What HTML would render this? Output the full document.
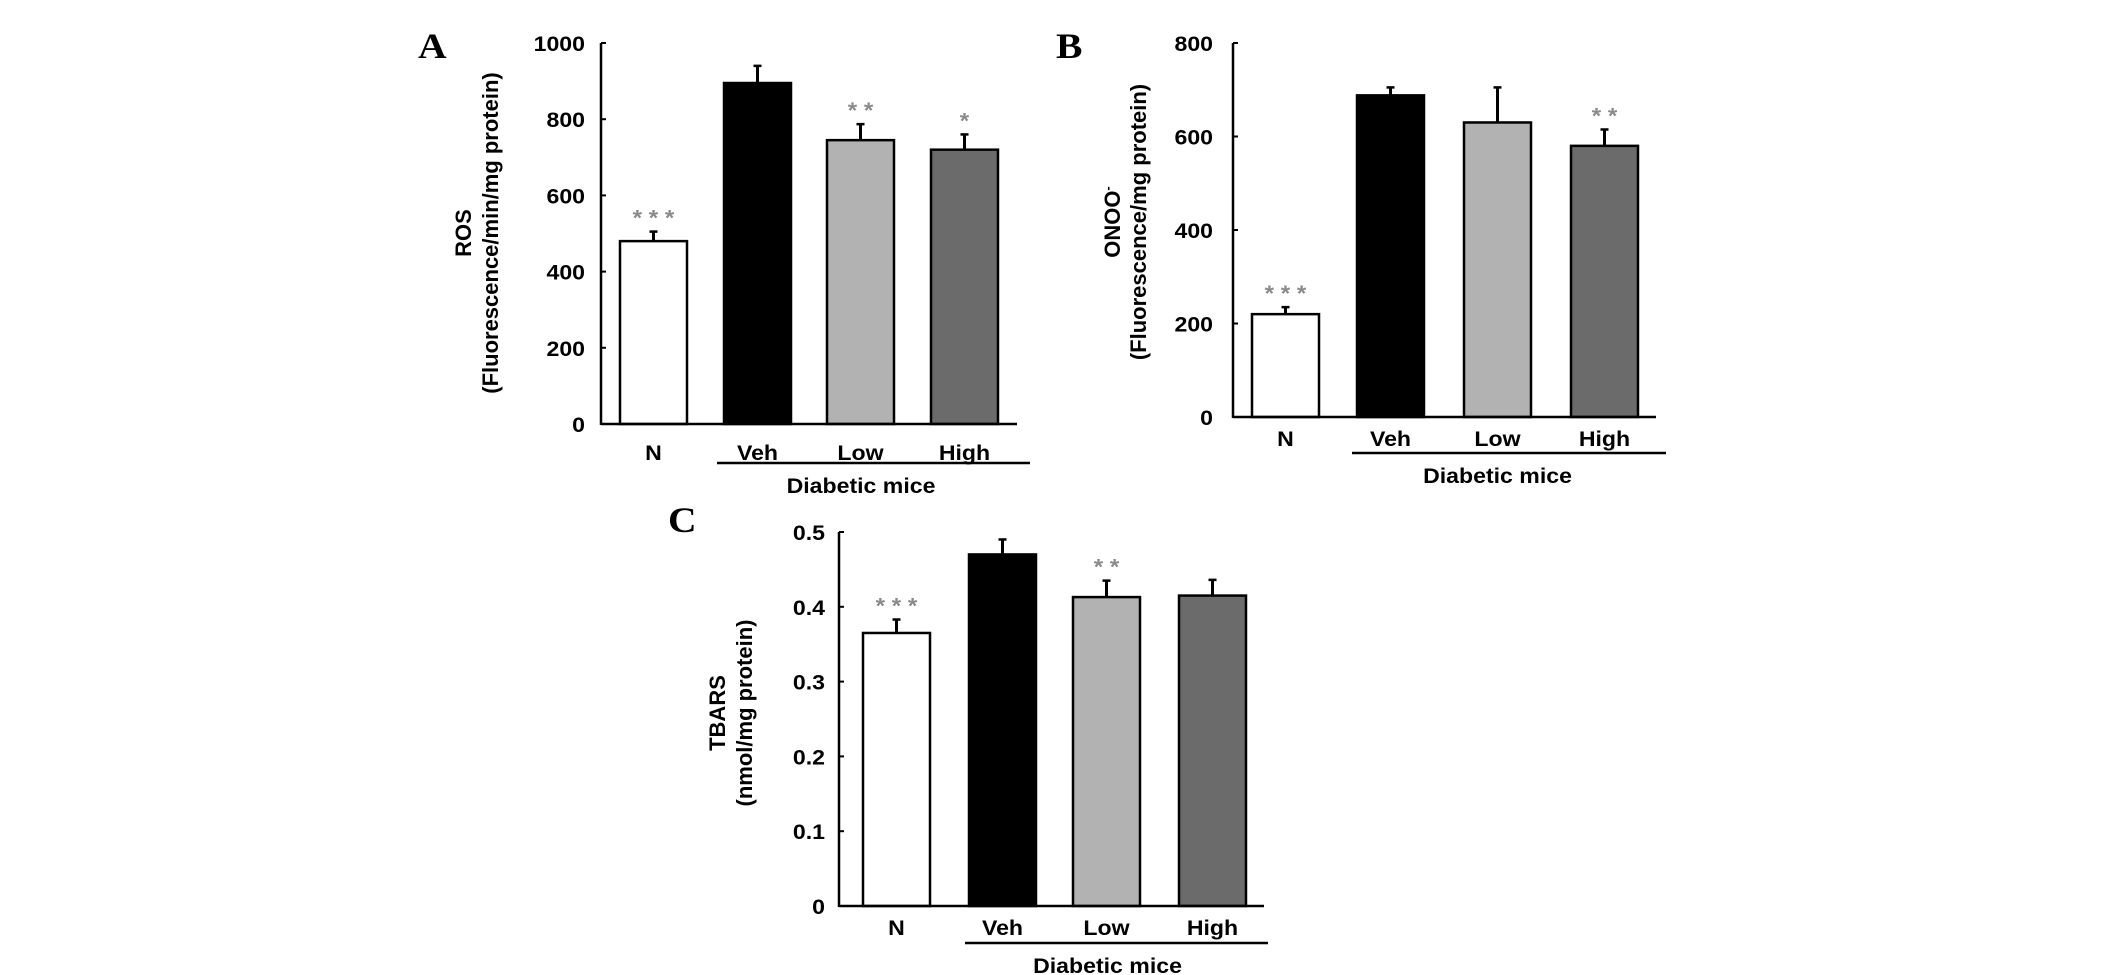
<!DOCTYPE html>
<html><head><meta charset="utf-8"><style>
html,body{margin:0;padding:0;background:#fff;}
svg{display:block;font-family:"Liberation Sans",Arial,sans-serif;}
</style></head><body>
<svg id="fig" width="2126" height="975" viewBox="0 0 2126 975"></svg>
<script>
const categories = ["N","Veh","Low","High"];
const fills = ["#ffffff","#000000","#b2b2b2","#6b6b6b"];
const rosValues = [480, 895, 745, 720];
const rosErrors = [25, 45, 42, 40];
const rosStars = ["* * *", "", "* *", "*"];
const rosTicks = [0,200,400,600,800,1000];
const onooValues = [220, 688, 630, 580];
const onooErrors = [15, 17, 75, 35];
const onooStars = ["* * *", "", "", "* *"];
const onooTicks = [0,200,400,600,800];
const tbarsValues = [0.365, 0.470, 0.413, 0.415];
const tbarsErrors = [0.018, 0.020, 0.022, 0.021];
const tbarsStars = ["* * *", "", "* *", ""];
const tbarsTicks = [0,0.1,0.2,0.3,0.4,0.5];

const NS = "http://www.w3.org/2000/svg";
const svg = document.getElementById('fig');
const SX = 1.1;
function mk(tag, attrs, parent){const e=document.createElementNS(NS,tag);for(const k in attrs)e.setAttribute(k,attrs[k]);(parent||svg).appendChild(e);return e;}
function txt(parent, x, y, anchor, size, content, extra){
  const a = Object.assign({x:0,y:0,'text-anchor':anchor,'font-size':size,'font-weight':'bold',transform:`translate(${x},${y}) scale(${SX},1)`}, extra||{});
  const t = mk('text', a, parent);
  t.innerHTML = content;
  return t;
}

function panel(cfg){
  const g = mk('g',{});
  
  
  const ymax = cfg.ticks[cfg.ticks.length-1];
  const y = v => cfg.y0 - (v/ymax)*(cfg.y0-cfg.yTop);
  const L = txt(g, cfg.letterX, cfg.letterY, 'start', 36, cfg.letter, {'font-family':'"Liberation Serif",serif'});
  
  
  cfg.values.forEach((v,i)=>{
    const x0 = cfg.barX[i], w = cfg.barW;
    const top = y(v), et = y(v+cfg.errors[i]);
    const eb = mk('line',{x1:x0+w/2,x2:x0+w/2,y1:top,y2:et,stroke:'#000','stroke-width':3},g);
    
    
    mk('line',{x1:x0+w/2-4,x2:x0+w/2+4,y1:et,y2:et,stroke:'#000','stroke-width':2.5},g);
    const r = mk('rect',{x:x0,y:top,width:w,height:cfg.y0-top,fill:fills[i],stroke:'#000','stroke-width':2.5},g);
    
    
    if(cfg.stars[i]){
      const s = txt(g, x0+w/2, et-6, 'middle', 22, cfg.stars[i], {fill:'#8a8a8a'});
      
      
    }
    const t = txt(g, x0+w/2, cfg.labelY+8, 'middle', 21, categories[i]);
    
    
  });
  const ya = mk('line',{x1:cfg.axX,x2:cfg.axX,y1:cfg.yTop,y2:cfg.y0+1,stroke:'#000','stroke-width':2.5},g);
  
  
  const xa = mk('line',{x1:cfg.axX,x2:cfg.axEnd,y1:cfg.y0,y2:cfg.y0,stroke:'#000','stroke-width':2.5},g);
  
  
  cfg.ticks.forEach(tv=>{
    mk('line',{x1:cfg.axX,x2:cfg.axX+5,y1:y(tv),y2:y(tv),stroke:'#000','stroke-width':2},g);
    const t = txt(g, cfg.tickRight, y(tv)+8, 'end', 21, cfg.fmt(tv));
    
    
  });
  const ul = mk('line',{x1:cfg.ulX1,x2:cfg.ulX2,y1:cfg.ulY,y2:cfg.ulY,stroke:'#000','stroke-width':2.5},g);
  
  
  const dm = txt(g, (cfg.barX[1]+cfg.barX[3]+cfg.barW)/2, cfg.ulY+30, 'middle', 21, 'Diabetic mice');
  
  
  cfg.titles.forEach((tt,k)=>{
    const t = mk('text',{x:0,y:0,'text-anchor':'middle','font-size':22,'font-weight':'bold',transform:`translate(${cfg.titleX[k]+8},${cfg.titleY}) rotate(-90)`},g);
    t.innerHTML = tt;
    
    
  });
}

panel({id:'ros',letter:'A',letterX:418,letterY:58,values:rosValues,errors:rosErrors,stars:rosStars,ticks:rosTicks,
  fmt:v=>String(v),axX:601,axEnd:1017,yTop:43,y0:424,barX:[620,724,827,931],barW:67,labelY:452,tickRight:585,
  ulX1:717,ulX2:1030,ulY:463,titles:['ROS','(Fluorescence/min/mg protein)'],titleX:[463,490],titleY:233});
panel({id:'onoo',letter:'B',letterX:1056,letterY:58,values:onooValues,errors:onooErrors,stars:onooStars,ticks:onooTicks,
  fmt:v=>String(v),axX:1233,axEnd:1656,yTop:43,y0:417,barX:[1252,1357,1464,1571],barW:67,labelY:438,tickRight:1213,
  ulX1:1352,ulX2:1666,ulY:453,titles:['ONOO<tspan font-size="13" dy="-8">-</tspan>','(Fluorescence/mg protein)'],titleX:[1112,1138],titleY:222});
panel({id:'tbars',letter:'C',letterX:668,letterY:532,values:tbarsValues,errors:tbarsErrors,stars:tbarsStars,ticks:tbarsTicks,
  fmt:v=>v===0?'0':v.toFixed(1),axX:839,axEnd:1264,yTop:532,y0:906,barX:[863,969,1073,1179],barW:67,labelY:927,tickRight:825,
  ulX1:965,ulX2:1268,ulY:943,titles:['TBARS','(nmol/mg protein)'],titleX:[717,744],titleY:713});
</script>
</body></html>
